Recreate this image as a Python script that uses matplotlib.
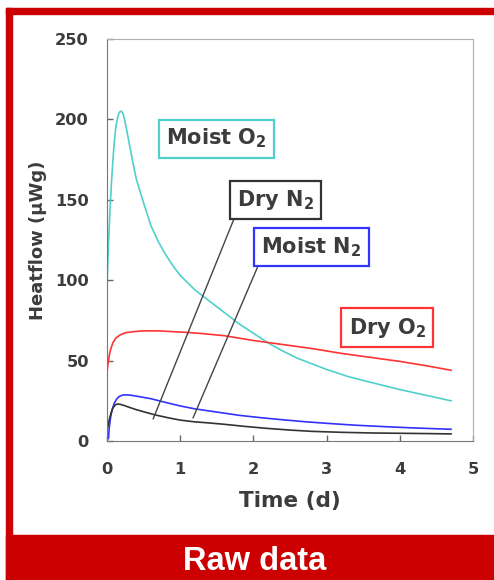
import matplotlib
matplotlib.use("Agg")
import matplotlib.pyplot as plt
from matplotlib.patches import Rectangle

# values
moist_o2_t = [0, 0.02, 0.04, 0.06, 0.08, 0.10, 0.12, 0.14, 0.16, 0.18, 0.20, 0.22, 0.24,
              0.27, 0.30, 0.35, 0.40, 0.50, 0.60, 0.70, 0.80, 0.90, 1.0, 1.2, 1.4, 1.6,
              1.8, 2.0, 2.2, 2.4, 2.6, 2.8, 3.0, 3.3, 3.6, 4.0, 4.35, 4.7]
moist_o2_q = [96, 122, 143, 160, 174, 186, 195, 200, 203.5, 205, 205, 203.5, 200,
              193, 186, 174, 163, 148, 134, 124, 116, 109, 103, 94, 87, 80,
              73, 67, 61, 56, 51.5, 48, 44.5, 40, 36.5, 32, 28.5, 25]

dry_o2_t = [0, 0.01, 0.03, 0.05, 0.08, 0.12, 0.18, 0.25, 0.36, 0.5, 0.7, 0.9, 1.1, 1.3,
            1.6, 2.0, 2.4, 2.8, 3.2, 3.6, 4.0, 4.4, 4.7]
dry_o2_q = [42, 47, 53, 57, 61, 64, 66, 67.3, 68, 68.5, 68.5, 68, 67.5, 66.8,
            65.5, 62.5, 60, 57.5, 54.5, 52, 49.5, 46.5, 44]

moist_n2_t = [0.02, 0.03, 0.05, 0.07, 0.10, 0.13, 0.17, 0.22, 0.28, 0.35, 0.45, 0.6, 0.8,
              1.0, 1.2, 1.5, 1.8, 2.1, 2.4, 2.7, 3.0, 3.4, 3.8, 4.2, 4.7]
moist_n2_q = [1.5, 8, 15, 19.5, 23.5, 26, 27.8, 28.6, 28.7, 28.3, 27.5, 26.3, 24,
              21.8, 20, 18, 16, 14.5, 13.2, 12, 11, 9.8, 8.9, 8.1, 7.3]

dry_n2_t = [0, 0.02, 0.04, 0.06, 0.08, 0.11, 0.14, 0.18, 0.24, 0.3, 0.4, 0.5, 0.66, 0.85,
            1.0, 1.18, 1.4, 1.6, 1.9, 2.2, 2.5, 2.8, 3.2, 3.6, 4.0, 4.4, 4.7]
dry_n2_q = [6.5, 11, 15, 18, 20.5, 22.3, 23, 22.8, 22, 21, 19.5, 18.2, 16.2, 14.3,
            13, 12, 11.2, 10.4, 9, 7.8, 6.8, 6, 5.4, 5, 4.8, 4.6, 4.4]

x_ticks = [0, 1, 2, 3, 4, 5]
y_ticks = [0, 50, 100, 150, 200, 250]

CYAN = '#4fd0cb'
RED = '#ff3333'
BLUE = '#3333ff'
BLACK = '#333333'
TXT = '#3c3c3c'
FRAME = '#cc0000'

plt.rcParams['font.family'] = 'DejaVu Sans'
plt.rcParams['font.weight'] = 'bold'
plt.rcParams['axes.labelweight'] = 'bold'
plt.rcParams['mathtext.fontset'] = 'dejavusans'
plt.rcParams['mathtext.default'] = 'bf'

W, H = 494, 580
fig = plt.figure(figsize=(W / 100, H / 100), dpi=100)
fig.patch.set_facecolor('white')

# red frame and bottom banner
fig.patches.append(Rectangle((6 / W, 0), 6 / W, (H - 8) / H, transform=fig.transFigure,
                             color=FRAME, zorder=0))
fig.patches.append(Rectangle((6 / W, (H - 14) / H), (W - 6) / W, 6 / H,
                             transform=fig.transFigure, color=FRAME, zorder=0))
fig.patches.append(Rectangle((6 / W, 0), (W - 6) / W, 45 / H, transform=fig.transFigure,
                             color=FRAME, zorder=0))
fig.text(255 / W, (H - 561) / H, 'Raw data', color='white', fontsize=23.5,
         family='Liberation Sans', fontweight='bold', ha='center', va='center')

ax = fig.add_axes([107 / W, (H - 441) / H, 366 / W, 402 / H])

ax.plot(moist_o2_t, moist_o2_q, color=CYAN, lw=1.2)
ax.plot(dry_o2_t, dry_o2_q, color=RED, lw=1.2)
ax.plot(moist_n2_t, moist_n2_q, color=BLUE, lw=1.2)
ax.plot(dry_n2_t, dry_n2_q, color=BLACK, lw=1.2)

ax.set_xlim(0, 5)
ax.set_ylim(0, 250)
ax.set_xticks(x_ticks)
ax.set_yticks(y_ticks)
ax.tick_params(direction='in', length=4, width=1, color='#666666',
               labelsize=11.7, labelcolor=TXT)
ax.tick_params(axis='x', pad=15)
ax.tick_params(axis='y', pad=13)
for side in ['left', 'bottom']:
    ax.spines[side].set_color('#777777')
for side in ['top', 'right']:
    ax.spines[side].set_color('#b0b0b0')

ax.set_xlabel('Time (d)', fontsize=15.5, color=TXT)
ax.xaxis.set_label_coords(0.5, -0.125)
ax.set_ylabel('Heatflow (µWg)', fontsize=13, color=TXT)
ax.yaxis.set_label_coords(-0.165, 0.5)


def box(color):
    return dict(boxstyle='square,pad=0.35', fc='white', ec=color, lw=1.6)


ax.text(1.50, 188, r'Moist O$_2$', fontsize=15, color=TXT, ha='center', va='center',
        bbox=box(CYAN))
ax.annotate(r'Dry N$_2$', xy=(0.63, 13.7), xytext=(2.30, 150), fontsize=15, color=TXT,
            ha='center', va='center', bbox=box(BLACK),
            arrowprops=dict(arrowstyle='-', color='#444444', lw=1, relpos=(0, 0),
                            shrinkA=0, shrinkB=0))
ax.annotate(r'Moist N$_2$', xy=(1.175, 14.3), xytext=(2.79, 120.5), fontsize=15, color=TXT,
            ha='center', va='center', bbox=box(BLUE),
            arrowprops=dict(arrowstyle='-', color='#444444', lw=1, relpos=(0, 0),
                            shrinkA=0, shrinkB=0))
ax.text(3.83, 70.5, r'Dry O$_2$', fontsize=15, color=TXT, ha='center', va='center',
        bbox=box(RED))

plt.savefig('out.png', dpi=100)
